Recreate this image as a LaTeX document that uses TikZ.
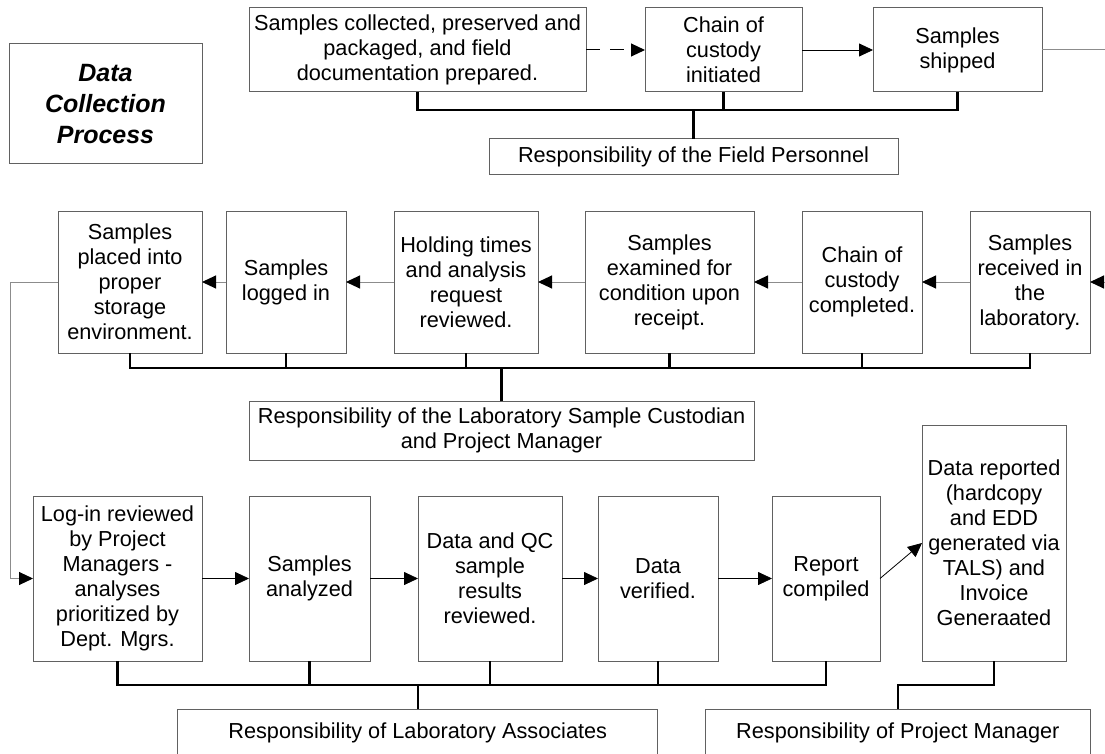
\documentclass[tikz,border=0pt]{standalone}
\usepackage{fontspec}
\setmainfont{Liberation Sans}
\usetikzlibrary{arrows.meta}
\begin{document}
\begin{tikzpicture}[x=1pt,y=-1pt,
  box/.style={draw=black!62,line width=1pt,inner sep=0pt,outer sep=0pt,align=center,
    font=\fontsize{21.7}{25}\selectfont},
  bracket/.style={draw=black,line width=2.2pt},
  garr/.style={draw=black!45,line width=1pt,-{Triangle[length=14pt,width=13pt,fill=black,color=black]}},
  barr/.style={draw=black,line width=0.8pt,-{Triangle[length=14pt,width=13pt]}},
  dasharr/.style={draw=black,line width=1pt,dash pattern=on 14pt off 10pt,-{Triangle[length=14pt,width=13pt]}},
  gline/.style={draw=black!45,line width=1pt}]
\fill[white] (0,0) rectangle (1105,754);
\useasboundingbox (0,0) rectangle (1105,754);

% title
\node[box,minimum width=193pt,minimum height=120pt,font=\fontsize{25}{31}\selectfont\bfseries\itshape] (title) at (105.5,104) {Data\\Collection\\Process};

% top row
\node[box,minimum width=337pt,minimum height=84pt] (b1) at (417.5,50) {Samples collected, preserved and\\packaged, and field\\documentation prepared.};
\node[box,minimum width=157pt,minimum height=84pt] (b2) at (723.5,50) {Chain of\\custody\\initiated};
\node[box,minimum width=169pt,minimum height=84pt] (b3) at (957.5,50) {Samples\\shipped};
\node[box,minimum width=409pt,minimum height=36pt] (fp) at (693.5,157) {Responsibility of the Field Personnel};
\coordinate (exitTop) at (1105,50);

\draw[dasharr] (b1.east) -- (b2.west);
\draw[barr] (b2.east) -- (b3.west);
\draw[gline] (b3.east) -- (exitTop);
\draw[bracket] (b1.south) -- ++(0,18) -| (b3.south);
\draw[bracket] (b2.south) -- ++(0,18);
\draw[bracket] (fp.north) -- ++(0,-29.5);

% second row
\node[box,minimum width=144pt,minimum height=142pt] (A) at (130,282) {Samples\\placed into\\proper\\storage\\environment.};
\node[box,minimum width=120pt,minimum height=142pt] (B) at (286,282) {Samples\\logged in};
\node[box,minimum width=144pt,minimum height=142pt] (C) at (466,282) {Holding times\\and analysis\\request\\reviewed.};
\node[box,minimum width=169pt,minimum height=142pt] (D) at (669.5,282) {Samples\\examined for\\condition upon\\receipt.};
\node[box,minimum width=120pt,minimum height=142pt] (E) at (862,282) {Chain of\\custody\\completed.};
\node[box,minimum width=120pt,minimum height=142pt] (F) at (1030,282) {Samples\\received in\\the\\laboratory.};
\node[box,minimum width=505pt,minimum height=59pt] (cu) at (501.5,430.5) {Responsibility of the Laboratory Sample Custodian\\and Project Manager};
\coordinate (inRight) at (1105,282);
\coordinate (loopTop) at (10,282);

\draw[garr] (inRight) -- (F.east);
\draw[garr] (F.west) -- (E.east);
\draw[garr] (E.west) -- (D.east);
\draw[garr] (D.west) -- (C.east);
\draw[garr] (C.west) -- (B.east);
\draw[garr] (B.west) -- (A.east);
\draw[bracket] (A.south) -- ++(0,15) -| (F.south);
\foreach \n in {B,C,D,E} \draw[bracket] (\n.south) -- ++(0,15);
\draw[bracket] (cu.north) -- ++(0,-33);

% third row
\node[box,minimum width=169pt,minimum height=165pt] (G) at (117.5,578.5) {Log-in reviewed\\by Project\\Managers -\\analyses\\prioritized by\\Dept. Mgrs.};
\node[box,minimum width=121pt,minimum height=165pt] (H) at (309.5,578.5) {Samples\\analyzed};
\node[box,minimum width=144pt,minimum height=165pt] (I) at (490,578.5) {Data and QC\\sample\\results\\reviewed.};
\node[box,minimum width=120pt,minimum height=165pt] (J) at (658,578.5) {Data\\verified.};
\node[box,minimum width=108pt,minimum height=165pt] (K) at (826,578.5) {Report\\compiled};
\node[box,minimum width=144pt,minimum height=236pt] (L) at (994,543) {Data reported\\(hardcopy\\and EDD\\generated via\\TALS) and\\Invoice\\Generaated};
\node[box,minimum width=480pt,minimum height=47pt] (as) at (417.75,732.5) {Responsibility of Laboratory Associates};
\node[box,minimum width=385pt,minimum height=47pt] (pm) at (897.8,732.5) {Responsibility of Project Manager};

\draw[garr] (A.west) -- (loopTop) |- (G.west);
\draw[barr] (G.east) -- (H.west);
\draw[barr] (H.east) -- (I.west);
\draw[barr] (I.east) -- (J.west);
\draw[barr] (J.east) -- (K.west);
\draw[barr] (K.east) -- (L.west);
\draw[bracket] (G.south) -- ++(0,24) -| (K.south);
\foreach \n in {H,I,J} \draw[bracket] (\n.south) -- ++(0,24);
\draw[bracket] (as.north) -- ++(0,-24);
\draw[bracket] (L.south) -- ++(0,24) -| (pm.north);
\end{tikzpicture}
\end{document}
